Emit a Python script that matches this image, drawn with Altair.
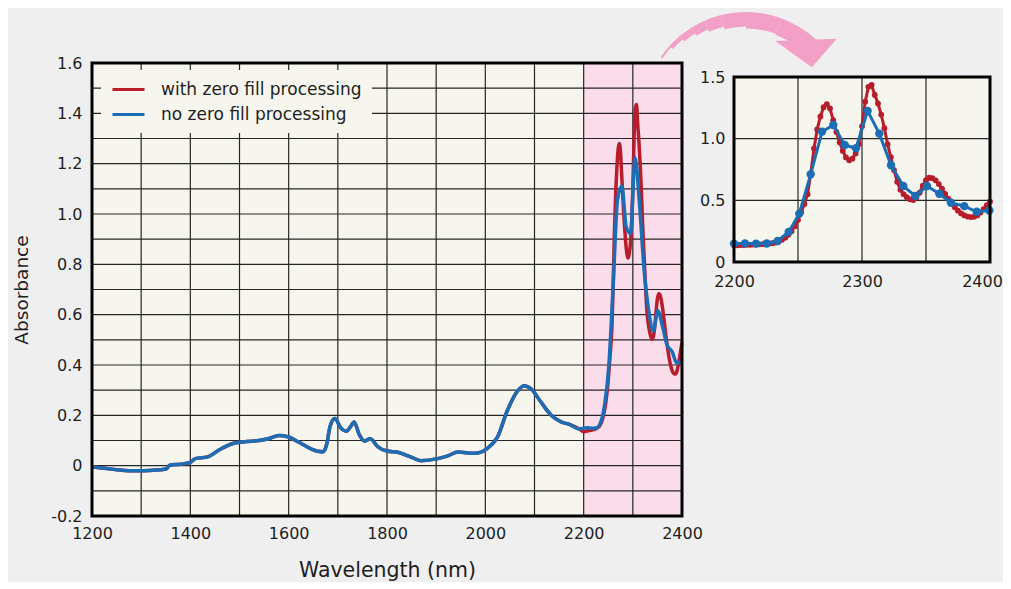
import math
import altair as alt
import pandas as pd

FONT = "DejaVu Sans"
PAGE_BG = "#EFEFEF"
PLOT_BG = "#F7F6EE"
PINK = "#FADCEA"
RED = "#B71D2A"
BLUE = "#1B6DB5"
GRID = "#262626"
ARROW = "#F2A0C5"
TXT = "#1E1E1E"

LBL_RED = "with zero fill processing"
LBL_BLUE = "no zero fill processing"

# ---- main spectrum (1200-2200 nm, both curves coincide here) ----
base_wl = [1200, 1225, 1250, 1275, 1300, 1325, 1345, 1352, 1358, 1380, 1400, 1410,
           1435, 1460, 1485, 1510, 1540, 1560, 1580, 1598, 1620, 1642, 1660, 1670,
           1678, 1684, 1694, 1706, 1717, 1727, 1733, 1744, 1754, 1766, 1781, 1800,
           1822, 1849, 1869, 1903, 1925, 1944, 1978, 2005, 2025, 2045, 2066, 2079,
           2093, 2113, 2134, 2154, 2171, 2191]
base_abs = [-0.005, -0.010, -0.016, -0.020, -0.020, -0.018, -0.015, -0.012, 0.002, 0.006,
            0.013, 0.028, 0.035, 0.064, 0.087, 0.095, 0.100, 0.108, 0.120, 0.115,
            0.094, 0.070, 0.057, 0.055, 0.090, 0.155, 0.187, 0.150, 0.137, 0.158,
            0.174, 0.122, 0.098, 0.107, 0.076, 0.058, 0.053, 0.034, 0.020, 0.028,
            0.040, 0.054, 0.049, 0.070, 0.115, 0.220, 0.298, 0.318, 0.305, 0.253,
            0.200, 0.174, 0.164, 0.146]

# ---- 2200-2400 nm region ----
red_wl = [2200 + 2.5 * i for i in range(81)]
red_abs = [0.135, 0.136, 0.137, 0.138, 0.139, 0.140, 0.141, 0.142, 0.143, 0.145,
           0.147, 0.150, 0.153, 0.158, 0.167, 0.180, 0.197, 0.220, 0.250, 0.290,
           0.340, 0.405, 0.470, 0.550, 0.720, 0.920, 1.075, 1.180, 1.255, 1.280,
           1.245, 1.150, 1.055, 0.970, 0.900, 0.848, 0.825, 0.838, 0.880, 0.955,
           1.100, 1.300, 1.420, 1.435, 1.355, 1.285, 1.195, 1.085, 0.955, 0.850,
           0.745, 0.650, 0.585, 0.550, 0.525, 0.508, 0.502, 0.520, 0.562, 0.618,
           0.663, 0.683, 0.680, 0.662, 0.632, 0.595, 0.553, 0.512, 0.476, 0.444,
           0.416, 0.394, 0.378, 0.368, 0.364, 0.366, 0.378, 0.400, 0.428, 0.460,
           0.490]
blue_wl = [2200.0, 2208.6, 2217.2, 2225.5, 2234.1, 2242.7, 2251.0, 2259.9, 2268.8,
           2277.6, 2286.5, 2295.3, 2304.4, 2313.5, 2322.7, 2332.3, 2341.6, 2350.8,
           2360.4, 2369.5, 2379.9, 2389.6, 2399.5]
blue_abs = [0.149, 0.151, 0.149, 0.150, 0.170, 0.243, 0.392, 0.711, 1.057, 1.111,
            0.949, 0.922, 1.225, 1.041, 0.784, 0.616, 0.535, 0.616, 0.553, 0.480,
            0.453, 0.407, 0.418]

# ---- axes / grid ----
x_ticks_main = [1200, 1400, 1600, 1800, 2000, 2200, 2400]
y_ticks_main = [-0.2, 0, 0.2, 0.4, 0.6, 0.8, 1.0, 1.2, 1.4, 1.6]
x_grid_main = [1300, 1400, 1500, 1600, 1700, 1800, 1900, 2000, 2100, 2200, 2300]
y_grid_main = [-0.1, 0, 0.1, 0.2, 0.3, 0.4, 0.5, 0.6, 0.7, 0.8, 0.9, 1.0, 1.1,
               1.2, 1.3, 1.4, 1.5]
highlight = [2200, 2400]
main_x_dom = [1200, 2400]
main_y_dom = [-0.2, 1.6]

inset_x_ticks = [2200, 2300, 2400]
inset_y_ticks = [0, 0.5, 1.0, 1.5]
inset_x_grid = [2250, 2300, 2350]
inset_y_grid = [0.5, 1.0]
inset_x_dom = [2200, 2400]
inset_y_dom = [0, 1.5]

W, H = 590, 453
IW, IH = 256, 199
INSET_TOP = 14

LABEL_EXPR = "datum.value == 0 ? '0' : replace(format(datum.value, '.1f'), '\u2212', '-')"

# ---------------- main chart ----------------
xs = alt.Scale(domain=main_x_dom, nice=False, zero=False)
ys = alt.Scale(domain=main_y_dom, nice=False, zero=False)
x_axis = alt.Axis(values=x_ticks_main, format="d", grid=False, ticks=False, domain=False,
                  labelFlush=False, labelOverlap=False, labelPadding=9,
                  labelFont=FONT, labelFontSize=16, labelColor=TXT,
                  title="Wavelength (nm)", titleFont=FONT, titleFontSize=20.5,
                  titleFontWeight="normal", titleColor=TXT, titleY=54.5,
                  titleBaseline="middle")
y_axis = alt.Axis(values=y_ticks_main, grid=False, ticks=False, domain=False,
                  labelFlush=False, labelOverlap=False, labelPadding=10,
                  labelExpr=LABEL_EXPR,
                  labelFont=FONT, labelFontSize=16, labelColor=TXT,
                  title="Absorbance", titleFont=FONT, titleFontSize=18.5,
                  titleFontWeight="normal", titleColor=TXT, titleX=-71, titleY=H / 2,
                  titleBaseline="middle", titleAlign="center", titleAngle=270)


def MX(field):
    return alt.X(field, type="quantitative", scale=xs, axis=x_axis)


def MY(field):
    return alt.Y(field, type="quantitative", scale=ys, axis=y_axis)


legend = alt.Legend(orient="none", legendX=9, legendY=7, title=None,
                    fillColor=PLOT_BG, padding=10, symbolType="M-1,0H3",
                    symbolSize=256, symbolStrokeWidth=3, labelFont=FONT,
                    labelFontSize=17, labelColor=TXT, labelOffset=31,
                    labelLimit=400, rowPadding=7)
color = alt.Color("s:N", scale=alt.Scale(domain=[LBL_RED, LBL_BLUE], range=[RED, BLUE]),
                  legend=legend)

hl_df = pd.DataFrame({"x0": [highlight[0]], "x1": [highlight[1]]})
pink = alt.Chart(hl_df).mark_rect(color=PINK).encode(x=MX("x0"), x2="x1")

vgrid = alt.Chart(pd.DataFrame({"g": x_grid_main})).mark_rule(
    color=GRID, strokeWidth=1.2).encode(x=MX("g"))
hgrid = alt.Chart(pd.DataFrame({"g": y_grid_main})).mark_rule(
    color=GRID, strokeWidth=1.2).encode(y=MY("g"))

main_red = pd.DataFrame({"wl": base_wl + red_wl, "a": base_abs + red_abs, "s": LBL_RED})
main_blue = pd.DataFrame({"wl": base_wl + blue_wl, "a": base_abs + blue_abs, "s": LBL_BLUE})

line_red = alt.Chart(main_red).mark_line(strokeWidth=3.5, interpolate="monotone").encode(
    x=MX("wl"), y=MY("a"), color=color)
line_blue = alt.Chart(main_blue).mark_line(strokeWidth=3.5, interpolate="monotone").encode(
    x=MX("wl"), y=MY("a"), color=color)

frame_df = pd.DataFrame({"x0": [main_x_dom[0]], "x1": [main_x_dom[1]],
                         "y0": [main_y_dom[0]], "y1": [main_y_dom[1]]})
frame = alt.Chart(frame_df).mark_rect(fillOpacity=0, stroke="black", strokeWidth=3).encode(
    x=MX("x0"), x2="x1", y=MY("y0"), y2="y1")

# decorative arrow (pixel geometry, relative to main plot origin)
one = pd.DataFrame({"k": [0]})
ARC_CX, ARC_CY, ARC_R = 654, 52, 103
arrow_segments = [(-56, -48, 2), (-48, -40, 4.5), (-40, -32, 7), (-32, -24, 9.5),
                  (-24, -14, 12), (-14, 0, 14.5), (0, 20, 16.5), (20, 43, 17.5)]
arrow_layers = []
for a0, a1, th in arrow_segments:
    arrow_layers.append(
        alt.Chart(one).mark_arc(color=ARROW).encode(
            x=alt.value(ARC_CX), y=alt.value(ARC_CY),
            theta=alt.value(math.radians(a0 + 360)),
            theta2=alt.value(math.radians(a1 + 360)),
            radius=alt.value(ARC_R), radius2=alt.value(ARC_R - th)))
arrow_head = alt.Chart(one).mark_point(
    shape="M-1,-0.26L1,-0.33L0.19,0.59Z", filled=True, size=3800, opacity=1,
    color=ARROW, strokeWidth=0).encode(x=alt.value(714), y=alt.value(-14))

main = alt.layer(pink, vgrid, hgrid, line_red, line_blue, frame, *arrow_layers,
                 arrow_head).properties(
    width=W, height=H, view=alt.ViewBackground(fill=PLOT_BG, stroke="transparent"))

# ---------------- inset ----------------
xis = alt.Scale(domain=inset_x_dom, nice=False, zero=False)
yis = alt.Scale(domain=inset_y_dom, range=[IH, INSET_TOP], nice=False, zero=False)
xi_axis = alt.Axis(values=inset_x_ticks, format="d", grid=False, ticks=False, domain=False,
                   labelFlush=False, labelOverlap=False, labelPadding=11,
                   labelOffset={"condition": {"test": "datum.value == 2400", "value": -8},
                                "value": 0},
                   labelFont=FONT, labelFontSize=16, labelColor=TXT, title=None)
yi_axis = alt.Axis(values=inset_y_ticks, grid=False, ticks=False, domain=False,
                   labelFlush=False, labelOverlap=False, labelPadding=9,
                   labelExpr=LABEL_EXPR,
                   labelFont=FONT, labelFontSize=16, labelColor=TXT, title=None)


def IX(field):
    return alt.X(field, type="quantitative", scale=xis, axis=xi_axis)


def IY(field):
    return alt.Y(field, type="quantitative", scale=yis, axis=yi_axis)


ibox = pd.DataFrame({"x0": [inset_x_dom[0]], "x1": [inset_x_dom[1]],
                     "y0": [inset_y_dom[0]], "y1": [inset_y_dom[1]]})
ibg = alt.Chart(ibox).mark_rect(color=PLOT_BG).encode(
    x=IX("x0"), x2="x1", y=IY("y0"), y2="y1")
ivgrid = alt.Chart(pd.DataFrame({"g": inset_x_grid, "y0": inset_y_dom[0],
                                 "y1": inset_y_dom[1]})).mark_rule(
    color=GRID, strokeWidth=1.2).encode(x=IX("g"), y=IY("y0"), y2="y1")
ihgrid = alt.Chart(pd.DataFrame({"g": inset_y_grid, "x0": inset_x_dom[0],
                                 "x1": inset_x_dom[1]})).mark_rule(
    color=GRID, strokeWidth=1.2).encode(y=IY("g"), x=IX("x0"), x2="x1")

ired_df = pd.DataFrame({"wl": red_wl, "a": red_abs})
iblue_df = pd.DataFrame({"wl": blue_wl, "a": blue_abs})
ired_line = alt.Chart(ired_df).mark_line(color=RED, strokeWidth=3).encode(
    x=IX("wl"), y=IY("a"))
ired_pts = alt.Chart(ired_df).mark_circle(color=RED, size=34, opacity=1).encode(
    x=IX("wl"), y=IY("a"))
iblue_line = alt.Chart(iblue_df).mark_line(color=BLUE, strokeWidth=3).encode(
    x=IX("wl"), y=IY("a"))
iblue_pts = alt.Chart(iblue_df).mark_circle(color=BLUE, size=70, opacity=1).encode(
    x=IX("wl"), y=IY("a"))
iframe = alt.Chart(ibox).mark_rect(fillOpacity=0, stroke="black", strokeWidth=3).encode(
    x=IX("x0"), x2="x1", y=IY("y0"), y2="y1")

inset = alt.layer(ibg, ivgrid, ihgrid, ired_line, ired_pts, iblue_line, iblue_pts,
                  iframe).properties(
    width=IW, height=IH,
    view=alt.ViewBackground(fill="transparent", stroke="transparent"))

chart = alt.hconcat(main, inset, spacing=52, bounds="flush").properties(
    background=PAGE_BG, padding={"left": 3, "top": 3, "right": 0, "bottom": 0})

chart.save("out.html", embed_options={"renderer": "svg", "actions": False})
